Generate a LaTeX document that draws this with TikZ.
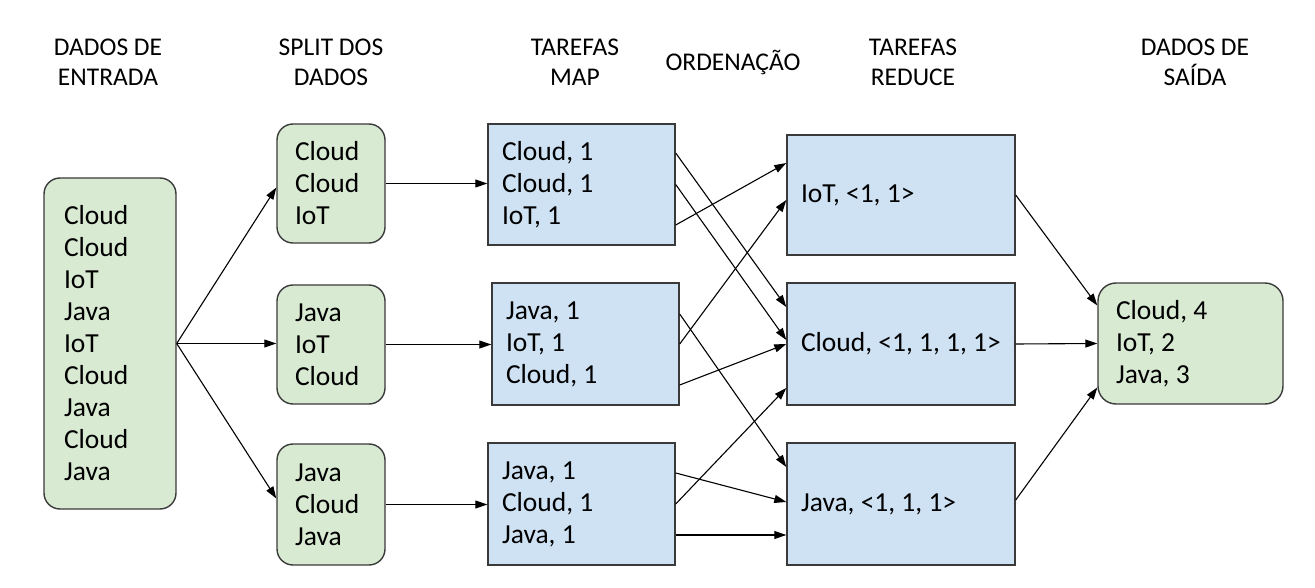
\documentclass[tikz,border=0pt]{standalone}
\usepackage{fontspec}
\setmainfont{Carlito}
\usetikzlibrary{arrows.meta}

\definecolor{greenfill}{HTML}{D9EAD3}
\definecolor{bluefill}{HTML}{CFE2F3}
\definecolor{boxline}{HTML}{3A3A3A}

\tikzset{
  every node/.style={font=\fontsize{27.5}{32}\selectfont, inner ysep=0pt},
  greenbox/.style={draw=boxline, fill=greenfill, line width=1.4pt, rounded corners=16pt, align=flush left},
  bluebox/.style={draw=boxline, fill=bluefill, line width=1.4pt, align=flush left},
  header/.style={align=center, font=\fontsize{25.5}{30}\selectfont},
  flow/.style={-{Triangle[length=12pt,width=8pt]}, line width=1.1pt, black}
}

\begin{document}
\begin{tikzpicture}[x=1pt,y=1pt]
    \useasboundingbox (0,0) rectangle (1315,-588);
    % cabecalhos
    \node[header] (hin) at (108,-62) {DADOS DE\\ENTRADA};
    \node[header] (hsplit) at (331,-62) {SPLIT DOS\\DADOS};
    \node[header] (hmap) at (575,-62) {TAREFAS\\MAP};
    \node[header] (hord) at (733,-62) {ORDENAÇÃO};
    \node[header] (hred) at (913,-62) {TAREFAS\\REDUCE};
    \node[header] (hout) at (1195,-62) {DADOS DE\\SAÍDA};
    % entrada
    \node[greenbox, inner xsep=20pt, text width=92pt, minimum height=331pt] (in) at (110,-343.5)
      {Cloud\\Cloud\\IoT\\Java\\IoT\\Cloud\\Java\\Cloud\\Java};
    % split
    \node[greenbox, inner xsep=18pt, text width=72pt, minimum height=119pt] (split1) at (331,-183.5) {Cloud\\Cloud\\IoT};
    \node[greenbox, inner xsep=18pt, text width=72pt, minimum height=119pt] (split2) at (331,-344.5) {Java\\IoT\\Cloud};
    \node[greenbox, inner xsep=18pt, text width=72pt, minimum height=121pt] (split3) at (331,-504.5) {Java\\Cloud\\Java};
    % map
    \node[bluebox, inner xsep=14pt, text width=159pt, minimum height=121pt] (map1) at (581.5,-184.5) {Cloud, 1\\Cloud, 1\\IoT, 1};
    \node[bluebox, inner xsep=14pt, text width=159pt, minimum height=122pt] (map2) at (585.5,-344) {Java, 1\\IoT, 1\\Cloud, 1};
    \node[bluebox, inner xsep=14pt, text width=159pt, minimum height=122pt] (map3) at (581.5,-504) {Java, 1\\Cloud, 1\\Java, 1};
    % reduce
    \node[bluebox, inner xsep=14pt, text width=200pt, minimum height=120pt] (red1) at (901,-195) {IoT, <1, 1>};
    \node[bluebox, inner xsep=14pt, text width=200pt, minimum height=122pt] (red2) at (901,-344) {Cloud, <1, 1, 1, 1>};
    \node[bluebox, inner xsep=14pt, text width=200pt, minimum height=122pt] (red3) at (901,-504) {Java, <1, 1, 1>};
    % saida
    \node[greenbox, rounded corners=18pt, inner xsep=18pt, text width=149pt, minimum height=121pt] (out) at (1190.5,-343.5)
      {Cloud, 4\\IoT, 2\\Java, 3};
    % entrada -> split
    \draw[flow] (in.east) -- ([yshift=-4pt]split1.west);
    \draw[flow] (in.east) -- (in.east -| split2.west);
    \draw[flow] (in.east) -- ([yshift=6pt]split3.west);
    % split -> map
    \draw[flow] (split1.east) -- (split1.east -| map1.west);
    \draw[flow] (split2.east) -- (split2.east -| map2.west);
    \draw[flow] (split3.east) -- (split3.east -| map3.west);
    % map -> reduce
    \draw[flow] ([yshift=31.5pt]map1.east) -- ([yshift=37pt]red2.west);
    \draw[flow] (map1.east) -- ([yshift=4pt]red2.west);
    \draw[flow] ([yshift=-40.5pt]map1.east) -- ([yshift=32pt]red1.west);
    \draw[flow] ([yshift=30pt]map2.east) -- ([yshift=37pt]red3.west);
    \draw[flow] (map2.east) -- ([yshift=-5pt]red1.west);
    \draw[flow] ([yshift=-41pt]map2.east) -- (red2.west);
    \draw[flow] (map3.east) -- ([yshift=-44pt]red2.west);
    \draw[flow] ([yshift=31pt]map3.east) -- ([yshift=2pt]red3.west);
    \draw[flow] ([yshift=-31pt]map3.east) -- ([yshift=-31pt]red3.west);
    % reduce -> saida
    \draw[flow] (red1.east) -- ([yshift=38pt]out.west);
    \draw[flow] (red2.east) -- (out.west);
    \draw[flow] ([yshift=4pt]red3.east) -- ([yshift=-44pt]out.west);
\end{tikzpicture}
\end{document}
